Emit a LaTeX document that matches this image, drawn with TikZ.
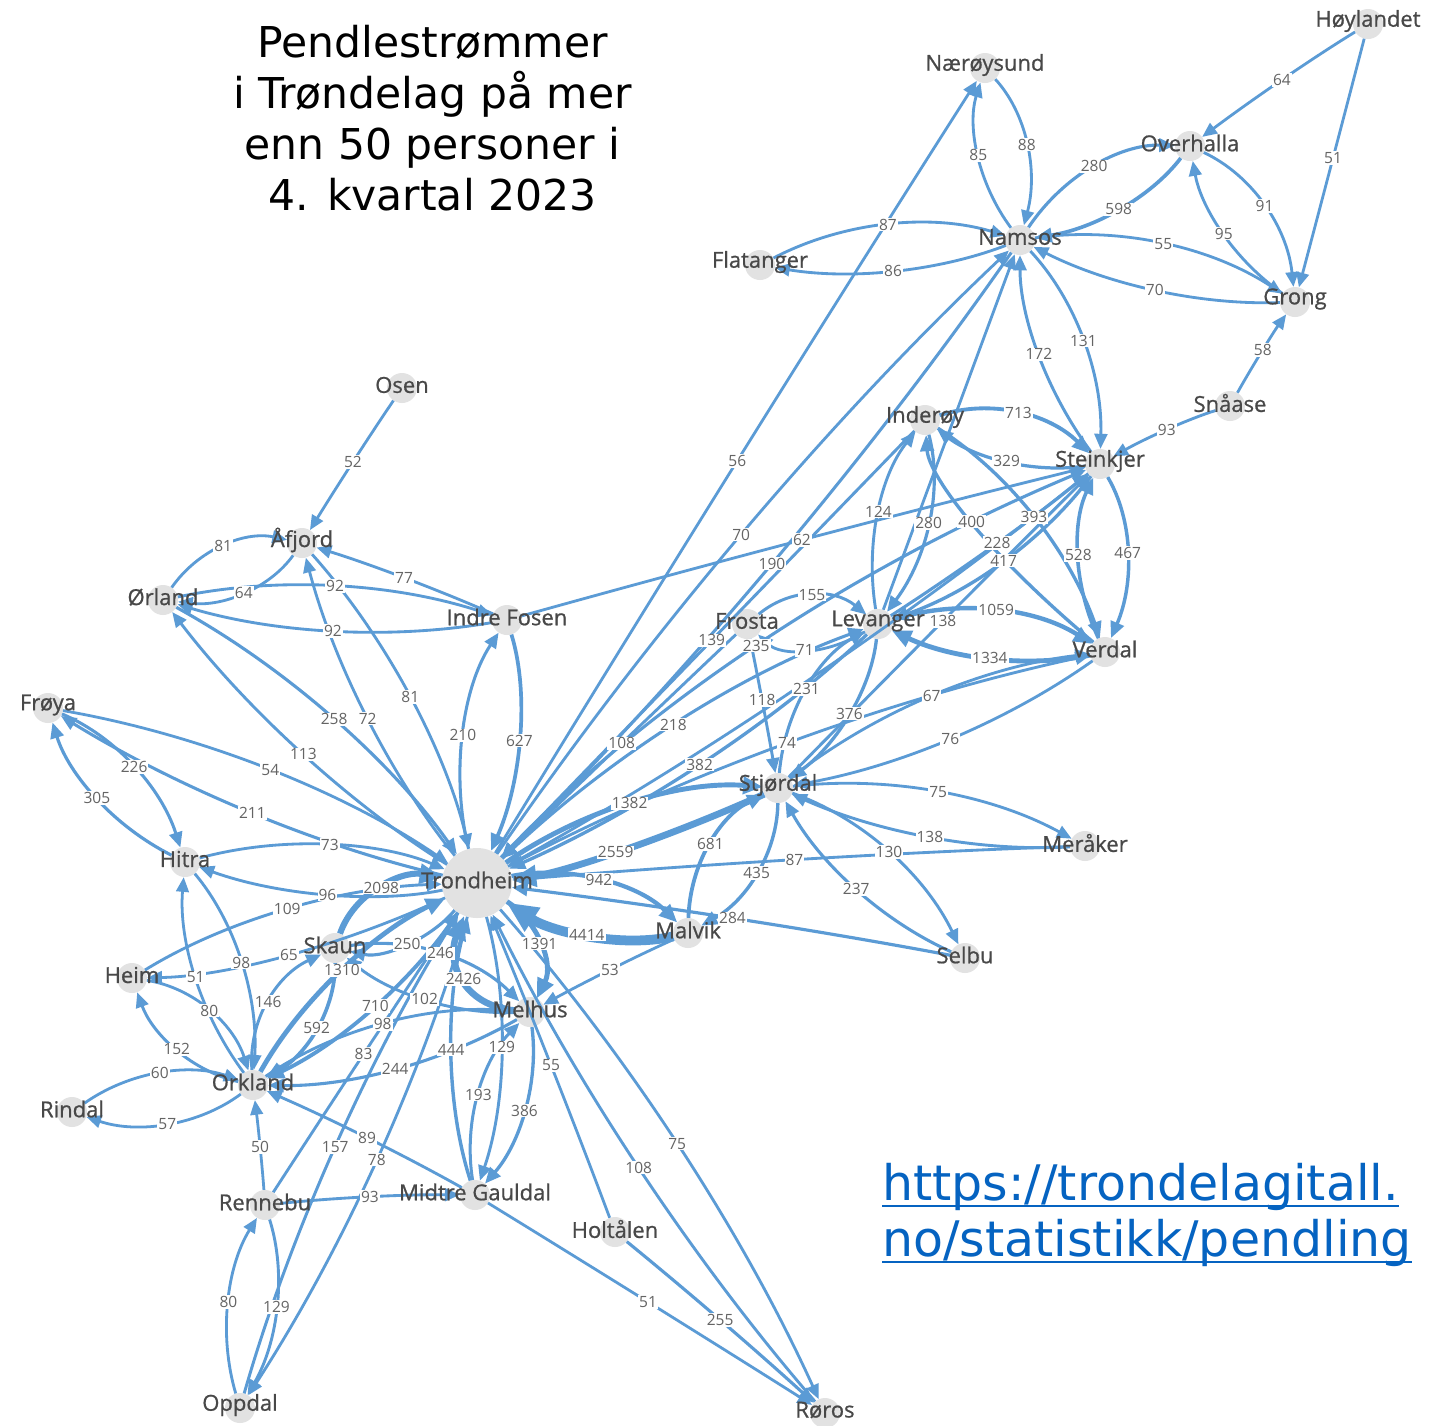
\documentclass[tikz,border=0pt]{standalone}
\usepackage{fontspec}
\usetikzlibrary{arrows.meta,calc}
\newfontfamily\osans{Open Sans}
\newfontfamily\osansb[FakeBold=0.8]{Open Sans}
\newfontfamily\dejavu{DejaVu Sans}
\definecolor{flowc}{RGB}{91,155,213}
\definecolor{nodec}{RGB}{226,226,226}
\definecolor{txtc}{RGB}{72,72,72}
\definecolor{labc}{RGB}{100,100,100}
\definecolor{urlc}{RGB}{5,99,193}
\pgfdeclarelayer{lab}\pgfdeclarelayer{top}\pgfsetlayers{main,lab,top}
\newcounter{flc}
\newcommand\flowe[5][]{%
  \stepcounter{flc}%
  \pgfmathsetmacro\flw{2.7+0.0016*#5}%
  \draw[flow,line width=\flw pt,#1] (#2) .. controls ($1.33333*(#4)-0.33333*(#3)$) and ($1.33333*(#4)-0.33333*(#2)$) .. (#3);%
  \begin{pgfonlayer}{lab}%
    \path (#2) .. controls ($1.33333*(#4)-0.33333*(#3)$) and ($1.33333*(#4)-0.33333*(#2)$) .. (#3) node[lbl,pos=0.5] (lab\theflc) {#5};%
  \end{pgfonlayer}}
\newcommand\flowu[4][]{%
  \draw[flow,line width=2.8pt,#1] (#2) .. controls ($1.33333*(#4)-0.33333*(#3)$) and ($1.33333*(#4)-0.33333*(#2)$) .. (#3);}
\tikzset{
  flow/.style={draw=flowc,-{Triangle[length=8pt 2.4,width=7pt 2.0]}},
  lbl/.style={fill=white,inner sep=1pt,text=labc,font=\osans\fontsize{15.5}{15.5}\selectfont},
  town/.style={circle,fill=nodec,minimum size=30pt,inner sep=0pt},
  townlbl/.style={text=txtc,font=\osansb\fontsize{22}{22}\selectfont,inner sep=0pt},
  ttl/.style={font=\dejavu\fontsize{42.5}{51}\selectfont,text=black,inner sep=0pt,anchor=base},
  urltext/.style={font=\dejavu\fontsize{49}{56}\selectfont,text=urlc,inner sep=0pt,anchor=base west}
}
\begin{document}
\begin{tikzpicture}[x=1pt,y=1pt]
\fill[white] (0,0) rectangle (1429,-1425);
\useasboundingbox (0,0) rectangle (1429,-1425);

% title and link
\node[ttl] (t1) at (432.5,-57) {Pendlestrømmer};
\node[ttl] (t2) at (432.5,-108) {i Trøndelag på mer};
\node[ttl] (t3) at (432.5,-159) {enn 50 personer i};
\node[ttl] (t4) at (432.5,-210) {4. kvartal 2023};
\node[urltext] (u1) at (882,-1200) {https://trondelagitall.};
\node[urltext] (u2) at (882,-1256) {no/statistikk/pendling};
\draw[urlc,line width=2.6pt] ([yshift=-6pt]u1.base west) -- ([yshift=-6pt]u1.base east);
\draw[urlc,line width=2.6pt] ([yshift=-6pt]u2.base west) -- ([yshift=-6pt]u2.base east);

% municipalities
\node[town] (hoy) at (1368,-24) {};
\node[town] (nar) at (985,-68) {};
\node[town] (ove) at (1190,-146) {};
\node[town] (nam) at (1020,-240) {};
\node[town] (fla) at (760,-265) {};
\node[town] (gro) at (1295,-302) {};
\node[town] (sna) at (1230,-406) {};
\node[town] (ose) at (402,-388) {};
\node[town] (ind) at (925,-420) {};
\node[town] (ste) at (1100,-464) {};
\node[town] (afj) at (302,-543) {};
\node[town] (orl) at (163,-600) {};
\node[town] (ifo) at (507,-620) {};
\node[town] (fro) at (747,-624) {};
\node[town] (lev) at (878,-624) {};
\node[town] (ver) at (1105,-652) {};
\node[town] (fry) at (48,-708) {};
\node[town] (stj) at (778,-788) {};
\node[town] (mer) at (1085,-846) {};
\node[town] (hit) at (185,-862) {};
\node[town,minimum size=70pt] (trd) at (477,-883) {};
\node[town] (mal) at (688,-933) {};
\node[town] (sel) at (965,-958) {};
\node[town] (ska) at (335,-948) {};
\node[town] (hei) at (132,-978) {};
\node[town] (mel) at (530,-1012) {};
\node[town] (ork) at (253,-1085) {};
\node[town] (rin) at (72,-1112) {};
\node[town] (ren) at (265,-1205) {};
\node[town] (mga) at (475,-1195) {};
\node[town] (hol) at (615,-1232) {};
\node[town] (opp) at (240,-1408) {};
\node[town] (ror) at (825,-1413) {};

% flows
\flowe{hoy}{ove}{1282,-80}{64}
\flowe{hoy}{gro}{1333,-158}{51}
\flowe{nam}{nar}{980,-155}{85}
\flowe{nar}{nam}{1025,-145}{88}
\flowe{nam}{ove}{1095,-168}{280}
\flowe{ove}{nam}{1118,-208}{598}
\flowe{nam}{gro}{1163,-245}{55}
\flowe{gro}{nam}{1155,-289}{70}
\flowe{ove}{gro}{1263,-207}{91}
\flowe{gro}{ove}{1225,-233}{95}
\flowe{fla}{nam}{888,-226}{87}
\flowe{nam}{fla}{893,-270}{86}
\flowe{sna}{gro}{1263,-350}{58}
\flowe{sna}{ste}{1167,-430}{93}
\flowe{nam}{ste}{1082,-341}{131}
\flowe{ste}{nam}{1040,-354}{172}
\flowe{trd}{nar}{736,-463}{56}
\flowe{trd}{nam}{740,-537}{70}
\flowe{nam}{trd}{770,-565}{190}
\flowu{lev}{nam}{949,-432}
\flowe{ifo}{ste}{802,-540}{62}
\flowe{ind}{ste}{1018,-415}{713}
\flowe{ste}{ind}{1007,-460}{329}
\flowe{lev}{ind}{880,-512}{124}
\flowe{ind}{lev}{927,-523}{280}
\flowe{ind}{ver}{1033,-518}{393}
\flowe{ver}{ind}{973,-521}{400}
\flowe{lev}{ste}{997,-543}{228}
\flowe{ste}{lev}{1003,-560}{417}
\flowe{stj}{ste}{943,-621}{138}
\flowe{ste}{ver}{1126,-553}{467}
\flowe{ver}{ste}{1080,-555}{528}
\flowe{lev}{ver}{996,-612}{1059}
\flowe{ver}{lev}{990,-657}{1334}
\flowe{fro}{lev}{812,-597}{155}
\flowe{lev}{fro}{805,-648}{71}
\flowe{fro}{stj}{762,-700}{118}
\flowe{trd}{ste}{755,-648}{235}
\flowu{ste}{trd}{800,-685}
\flowe{fro}{trd}{620,-745}{108}
\flowe{trd}{lev}{672,-727}{218}
\flowe{lev}{trd}{697,-765}{382}
\flowe{ind}{trd}{710,-642}{139}
\flowe{trd}{stj}{628,-806}{1382}
\flowe{stj}{trd}{613,-852}{2559}
\flowe{trd}{ver}{785,-745}{74}
\flowe{stj}{lev}{808,-690}{231}
\flowe{lev}{stj}{848,-713}{376}
\flowe{stj}{ver}{932,-697}{67}
\flowe{ver}{stj}{950,-738}{76}
\flowe{stj}{mer}{938,-793}{75}
\flowe{mer}{stj}{930,-836}{138}
\flowe{stj}{sel}{888,-853}{130}
\flowe{sel}{stj}{857,-888}{237}
\flowe{mer}{trd}{792,-860}{87}
\flowe{sel}{trd}{730,-918}{284}
\flowe{mal}{stj}{712,-845}{681}
\flowe{stj}{mal}{755,-872}{435}
\flowe{trd}{mal}{596,-882}{942}
\flowe{mal}{trd}{585,-932}{4414}
\flowe{mal}{mel}{610,-970}{53}
\flowe{trd}{mel}{535,-943}{1391}
\flowe{mel}{trd}{467,-975}{2426}
\flowe{ska}{trd}{385,-890}{2098}
\flowe{trd}{ska}{408,-940}{250}
\flowe{ska}{mel}{440,-955}{246}
\flowe{mel}{ska}{425,-998}{102}
\flowe{ork}{trd}{345,-970}{1310}
\flowe{trd}{ork}{376,-1003}{710}
\flowe{mel}{ork}{395,-1068}{244}
\flowe{ork}{mel}{383,-1025}{98}
\flowe{mga}{ork}{367,-1138}{89}
\flowe{ren}{trd}{365,-1052}{83}
\flowe{opp}{trd}{337,-1145}{157}
\flowe{trd}{opp}{377,-1157}{78}
\flowe{ren}{ork}{260,-1147}{50}
\flowe{ren}{mga}{370,-1197}{93}
\flowe{opp}{ren}{230,-1302}{80}
\flowe{ren}{opp}{275,-1307}{129}
\flowe{trd}{mga}{500,-1045}{129}
\flowe{mga}{trd}{453,-1047}{444}
\flowe{mga}{mel}{480,-1095}{193}
\flowe{mel}{mga}{523,-1110}{386}
\flowe{hol}{trd}{550,-1063}{55}
\flowe{trd}{ror}{675,-1142}{75}
\flowe{ror}{trd}{638,-1165}{108}
\flowe{mga}{ror}{648,-1302}{51}
\flowe{hol}{ror}{720,-1320}{255}
\flowe{ork}{rin}{167,-1122}{57}
\flowe{rin}{ork}{160,-1075}{60}
\flowe{hei}{ork}{208,-1012}{80}
\flowe{ork}{hei}{178,-1048}{152}
\flowe{hit}{ork}{240,-963}{98}
\flowe{ork}{hit}{197,-977}{51}
\flowe{ska}{ork}{315,-1027}{592}
\flowe{ork}{ska}{270,-1003}{146}
\flowe{hei}{trd}{290,-910}{109}
\flowe{trd}{hei}{291,-953}{65}
\flowe{hit}{trd}{332,-847}{73}
\flowe{trd}{hit}{330,-893}{96}
\flowe{fry}{trd}{272,-772}{54}
\flowe{trd}{fry}{255,-813}{211}
\flowe{fry}{hit}{133,-768}{226}
\flowe{hit}{fry}{98,-797}{305}
\flowe{orl}{trd}{335,-722}{258}
\flowe{trd}{orl}{306,-755}{113}
\flowe{afj}{trd}{410,-700}{81}
\flowe{trd}{afj}{370,-720}{72}
\flowe{trd}{ifo}{465,-738}{210}
\flowe{ifo}{trd}{517,-743}{627}
\flowe{ifo}{afj}{404,-578}{77}
\flowe{orl}{ifo}{335,-587}{92}
\flowe{ifo}{orl}{333,-630}{92}
\flowe{orl}{afj}{224,-548}{81}
\flowe{afj}{orl}{243,-591}{64}
\flowe{ose}{afj}{353,-462}{52}

% names
\begin{pgfonlayer}{top}
\node[townlbl] (hoy-t) at ([yshift=3pt]hoy) {Høylandet};
\node[townlbl] (nar-t) at ([yshift=3pt]nar) {Nærøysund};
\node[townlbl] (ove-t) at ([yshift=3pt]ove) {Overhalla};
\node[townlbl] (nam-t) at ([yshift=3pt]nam) {Namsos};
\node[townlbl] (fla-t) at ([yshift=3pt]fla) {Flatanger};
\node[townlbl] (gro-t) at ([yshift=3pt]gro) {Grong};
\node[townlbl] (sna-t) at ([yshift=3pt]sna) {Snåase};
\node[townlbl] (ose-t) at ([yshift=3pt]ose) {Osen};
\node[townlbl] (ind-t) at ([yshift=3pt]ind) {Inderøy};
\node[townlbl] (ste-t) at ([yshift=3pt]ste) {Steinkjer};
\node[townlbl] (afj-t) at ([yshift=3pt]afj) {Åfjord};
\node[townlbl] (orl-t) at ([yshift=3pt]orl) {Ørland};
\node[townlbl] (ifo-t) at ([yshift=3pt]ifo) {Indre Fosen};
\node[townlbl] (fro-t) at ([yshift=3pt]fro) {Frosta};
\node[townlbl] (lev-t) at ([yshift=3pt]lev) {Levanger};
\node[townlbl] (ver-t) at ([yshift=3pt]ver) {Verdal};
\node[townlbl] (fry-t) at ([yshift=3pt]fry) {Frøya};
\node[townlbl] (stj-t) at ([yshift=3pt]stj) {Stjørdal};
\node[townlbl] (mer-t) at ([yshift=3pt]mer) {Meråker};
\node[townlbl] (hit-t) at ([yshift=3pt]hit) {Hitra};
\node[townlbl] (trd-t) at ([yshift=3pt]trd) {Trondheim};
\node[townlbl] (mal-t) at ([yshift=3pt]mal) {Malvik};
\node[townlbl] (sel-t) at ([yshift=3pt]sel) {Selbu};
\node[townlbl] (ska-t) at ([yshift=3pt]ska) {Skaun};
\node[townlbl] (hei-t) at ([yshift=3pt]hei) {Heim};
\node[townlbl] (mel-t) at ([yshift=3pt]mel) {Melhus};
\node[townlbl] (ork-t) at ([yshift=3pt]ork) {Orkland};
\node[townlbl] (rin-t) at ([yshift=3pt]rin) {Rindal};
\node[townlbl] (ren-t) at ([yshift=3pt]ren) {Rennebu};
\node[townlbl] (mga-t) at ([yshift=3pt]mga) {Midtre Gauldal};
\node[townlbl] (hol-t) at ([yshift=3pt]hol) {Holtålen};
\node[townlbl] (opp-t) at ([yshift=3pt]opp) {Oppdal};
\node[townlbl] (ror-t) at ([yshift=3pt]ror) {Røros};
\end{pgfonlayer}
\end{tikzpicture}
\end{document}
